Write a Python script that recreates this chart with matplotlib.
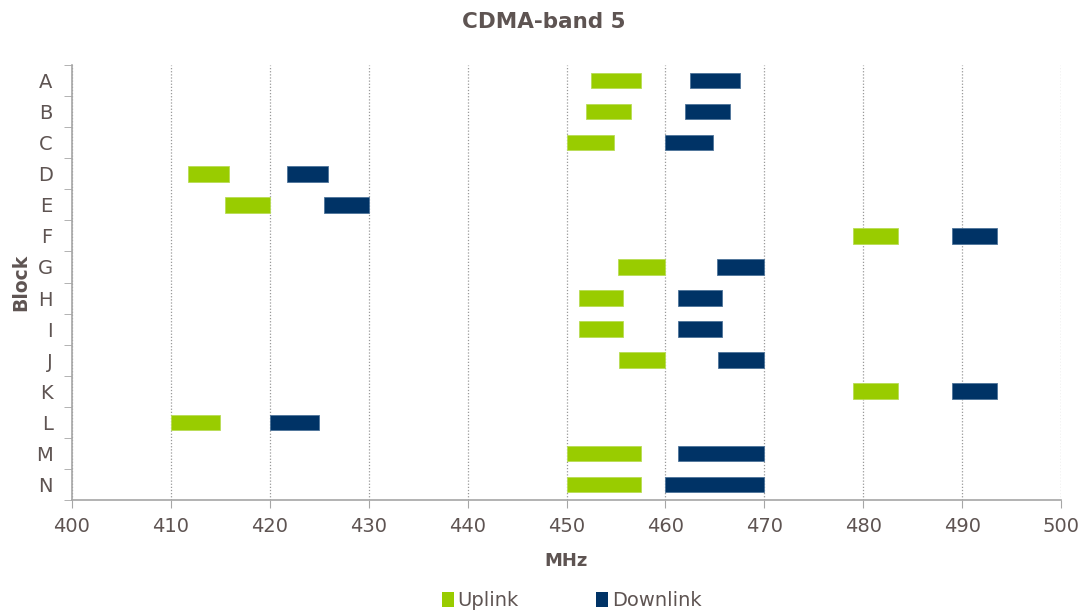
import numpy as np
import matplotlib.pyplot as plt
from matplotlib.patches import Patch

blocks = ["A", "B", "C", "D", "E", "F", "G", "H", "I", "J", "K", "L", "M", "N"]
up_start = [452.5, 452.0, 450.0, 411.7, 415.5, 479.0, 455.2, 451.3, 451.3, 455.3, 479.0, 410.0, 450.0, 450.0]
up_end = [457.5, 456.5, 454.8, 415.9, 420.0, 483.5, 460.0, 455.7, 455.7, 460.0, 483.5, 415.0, 457.5, 457.5]
down_start = [462.5, 462.0, 460.0, 421.7, 425.5, 489.0, 465.2, 461.3, 461.3, 465.3, 489.0, 420.0, 461.3, 460.0]
down_end = [467.5, 466.5, 464.8, 425.9, 430.0, 493.5, 470.0, 465.7, 465.7, 470.0, 493.5, 425.0, 470.0, 470.0]

UP = "#99cc00"
DOWN = "#003366"
TXT = "#5e5452"
AX = "#a6a6a6"

fig = plt.figure(figsize=(10.87, 6.13), dpi=100)
ax = fig.add_axes([72 / 1087, 1 - 500 / 613, (1061 - 72) / 1087, (500 - 65) / 613])

y = np.arange(len(blocks))
ax.barh(y, np.array(up_end) - np.array(up_start), left=up_start, height=0.5,
        color=UP, edgecolor="#b8dc55", linewidth=0.6, zorder=3)
ax.barh(y, np.array(down_end) - np.array(down_start), left=down_start, height=0.5,
        color=DOWN, edgecolor="#4d7399", linewidth=0.6, zorder=3)

ax.set_xlim(400, 500)
ax.set_ylim(len(blocks) - 0.5, -0.5)
ax.set_xticks(np.arange(400, 501, 10))
ax.set_yticks(y)
ax.set_yticklabels(blocks)
ax.set_yticks(np.arange(-0.5, len(blocks), 1), minor=True)
ax.tick_params(axis="y", which="major", length=0, pad=14, labelsize=14, labelcolor=TXT)
ax.tick_params(axis="y", which="minor", length=6, color=AX, direction="out")
ax.tick_params(axis="x", which="major", length=6, color=AX, pad=6, labelsize=14, labelcolor=TXT)

ax.grid(axis="x", linestyle=(0, (1, 1.5)), color="#999999", linewidth=0.9, zorder=0)
for s in ["top", "right"]:
    ax.spines[s].set_visible(False)
for s in ["left", "bottom"]:
    ax.spines[s].set_color(AX)
    ax.spines[s].set_linewidth(1.2)

ax.set_xlabel("MHz", fontsize=13, fontweight="bold", color=TXT, labelpad=12)
ax.set_ylabel("Block", fontsize=13.5, fontweight="bold", color=TXT, labelpad=4)
fig.text(0.5, 1 - 22 / 613, "CDMA-band 5", ha="center", va="center",
         fontsize=15.5, fontweight="bold", color=TXT)

handles = [Patch(facecolor=UP, label="Uplink"), Patch(facecolor=DOWN, label="Downlink")]
fig.legend(handles=handles, loc="center", bbox_to_anchor=(0.526, 1 - 601 / 613), ncol=2,
           frameon=False, fontsize=14, labelcolor=TXT, handlelength=0.6, handleheight=0.8,
           handletextpad=0.2, columnspacing=4.0)

fig.savefig("out.png", dpi=100)
